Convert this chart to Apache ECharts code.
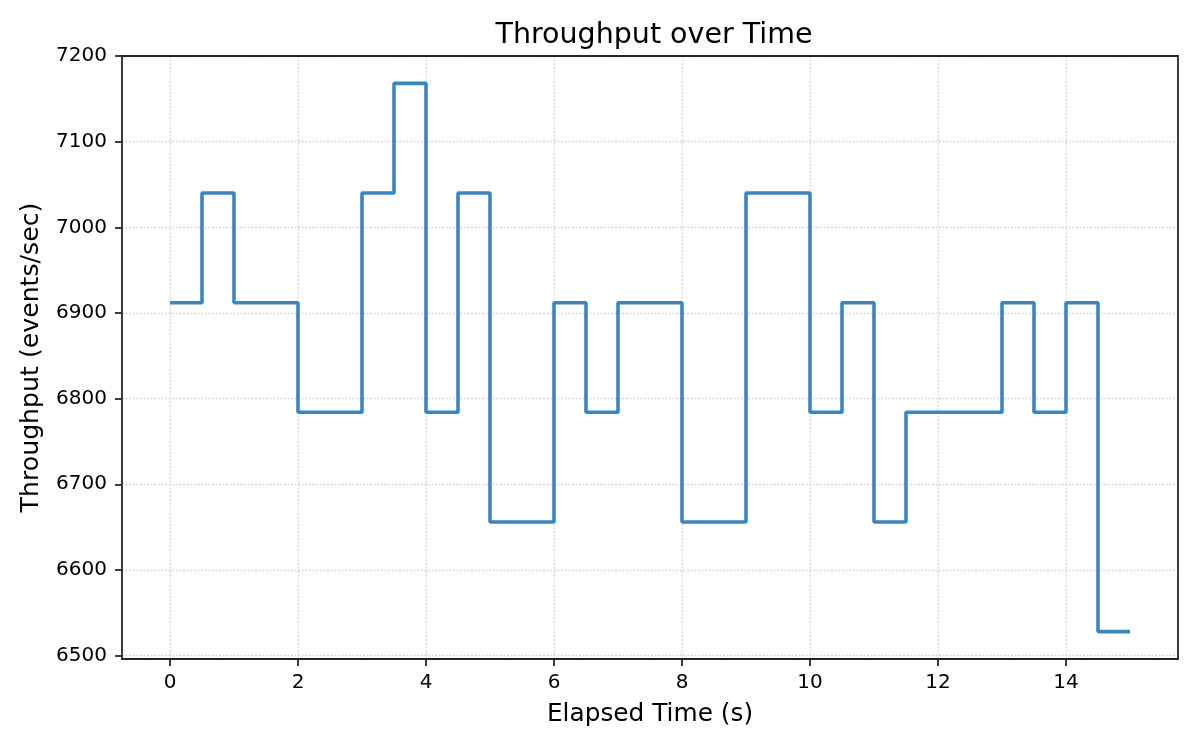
<!DOCTYPE html>
<html>
<head>
<meta charset="utf-8">
<script src="https://cdn.jsdelivr.net/npm/echarts@6/dist/echarts.min.js"></script>
<style>
  html, body { margin: 0; padding: 0; background: #fff; }
  #chart { width: 1200px; height: 750px; }
</style>
</head>
<body>
<div id="chart"></div>
<script>
// elapsed time (s), throughput sampled every 0.5 s
const times = [0, 0.5, 1, 1.5, 2, 2.5, 3, 3.5, 4, 4.5, 5, 5.5, 6, 6.5, 7, 7.5,
  8, 8.5, 9, 9.5, 10, 10.5, 11, 11.5, 12, 12.5, 13, 13.5, 14, 14.5, 15]
const throughput = [6912, 7040, 6912, 6912, 6784, 6784, 7040, 7168, 6784, 7040, 6656, 6656,
  6912, 6784, 6912, 6912, 6656, 6656, 7040, 7040, 6784, 6912, 6656, 6784, 6784, 6784,
  6912, 6784, 6912, 6528, 6528]
const xTicks = [0, 2, 4, 6, 8, 10, 12, 14]
const yTicks = [6500, 6600, 6700, 6800, 6900, 7000, 7100, 7200]

const FONT = 'DejaVu Sans'
const chart = echarts.init(document.getElementById('chart'))

const gridLine = { show: true, lineStyle: { color: '#d0d0d0', type: [1.6, 2], width: 1.3 } }
const frame = { show: true, onZero: false, lineStyle: { color: '#262626', width: 1.8 } }
const tick = vals => ({ show: true, length: 7, customValues: vals, lineStyle: { color: '#262626', width: 1.8 } })

chart.setOption({
  animation: false,
  backgroundColor: '#fff',
  title: {
    text: 'Throughput over Time',
    left: 649, top: 16, textAlign: 'center',
    textStyle: { fontFamily: FONT, fontSize: 28.5, fontWeight: 'normal', color: '#000' }
  },
  grid: { left: 122, right: 22, top: 56, bottom: 91, containLabel: false },
  xAxis: [{
    type: 'value', min: -0.75, max: 15.75,
    name: 'Elapsed Time (s)', nameLocation: 'middle', nameGap: 43,
    nameTextStyle: { fontFamily: FONT, fontSize: 24.8, color: '#000' },
    axisLine: frame,
    axisTick: tick(xTicks),
    axisLabel: { customValues: xTicks, fontFamily: FONT, fontSize: 20, color: '#000', margin: 14 },
    splitLine: gridLine
  }, {
    type: 'value', min: -0.75, max: 15.75, position: 'top',
    axisLine: frame, axisTick: { show: false }, axisLabel: { show: false }, splitLine: { show: false }
  }],
  yAxis: [{
    type: 'value', min: 6496, max: 7200,
    name: 'Throughput (events/sec)', nameLocation: 'middle', nameGap: 78, nameRotate: 90,
    nameTextStyle: { fontFamily: FONT, fontSize: 25.2, color: '#000' },
    axisLine: frame,
    axisTick: tick(yTicks),
    axisLabel: {
      customValues: yTicks, fontFamily: FONT, fontSize: 20, color: '#000', margin: 15,
      formatter: v => String(v)
    },
    splitLine: gridLine
  }, {
    type: 'value', min: 6496, max: 7200, position: 'right',
    axisLine: frame, axisTick: { show: false }, axisLabel: { show: false }, splitLine: { show: false }
  }],
  series: [{
    type: 'line',
    step: 'end',
    data: times.map((t, i) => [t, throughput[i]]),
    showSymbol: false,
    lineStyle: { color: '#3a86bf', width: 3.6 },
    itemStyle: { color: '#3a86bf' }
  }]
})
</script>
</body>
</html>
